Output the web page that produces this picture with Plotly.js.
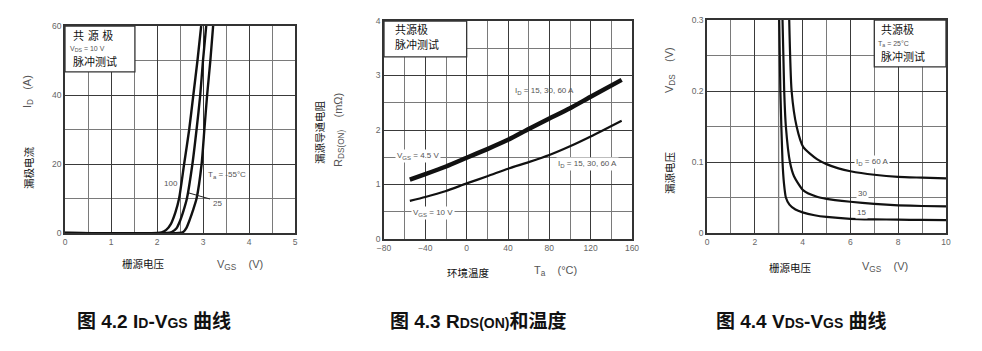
<!DOCTYPE html>
<html>
<head>
<meta charset="utf-8">
<script src="https://cdn.plot.ly/plotly-3.0.1.min.js"></script>
<style>html,body{margin:0;padding:0;background:#fff;}#chart{width:982px;height:351px;}</style>
</head>
<body>
<div id="chart"></div>
<script>
// ---- Figure 4.2: ID vs VGS ----
const vgs100 = [0, 2.0, 2.1, 2.2, 2.3, 2.4, 2.48, 2.59, 2.7, 2.79, 2.88, 2.96];
const id100  = [0, 0, 0.2, 0.9, 2.6, 6, 10, 20, 30, 40, 50, 60];
const vgs25  = [0, 2.22, 2.32, 2.42, 2.5, 2.57, 2.65, 2.77, 2.86, 2.94, 3.0, 3.07];
const id25   = [0, 0, 0.3, 1.3, 3.5, 6.2, 10, 20, 30, 40, 50, 60];
const vgsM55 = [0, 2.48, 2.57, 2.64, 2.71, 2.78, 2.86, 2.97, 3.03, 3.09, 3.16, 3.22];
const idM55  = [0, 0, 0.3, 1.5, 3.8, 6.5, 10, 20, 30, 40, 50, 60];

// ---- Figure 4.3: RDS(ON) vs temperature ----
const temps  = [-55, -40, -20, 0, 20, 40, 60, 80, 100, 120, 150];
const rVgs45 = [1.09, 1.19, 1.33, 1.49, 1.65, 1.82, 2.02, 2.21, 2.40, 2.61, 2.92];
const rVgs10 = [0.70, 0.77, 0.88, 1.02, 1.15, 1.29, 1.41, 1.54, 1.70, 1.88, 2.17];

// ---- Figure 4.4: VDS vs VGS ----
const vgs15 = [3.02, 3.07, 3.16, 3.22, 3.3, 3.45, 3.7, 4.0, 4.5, 5, 6, 7, 8, 9, 10];
const vds15 = [0.3, 0.2, 0.1, 0.07, 0.05, 0.04, 0.033, 0.029, 0.025, 0.0226, 0.020, 0.0192, 0.0188, 0.0184, 0.018];
const vgs30 = [3.16, 3.23, 3.3, 3.47, 3.64, 4.03, 4.6, 5, 6, 7, 8, 9, 10];
const vds30 = [0.3, 0.2, 0.15, 0.1, 0.08, 0.06, 0.051, 0.048, 0.044, 0.041, 0.039, 0.038, 0.0376];
const vgs60 = [3.44, 3.54, 3.75, 4.03, 4.6, 5, 5.5, 6, 7, 8, 9, 10];
const vds60 = [0.3, 0.2, 0.15, 0.121, 0.104, 0.097, 0.091, 0.087, 0.082, 0.079, 0.078, 0.077];

// tick labels
const x1Ticks = [0, 1, 2, 3, 4, 5];
const y1Ticks = [0, 20, 40, 60];
const x2Ticks = [-80, -40, 0, 40, 80, 120, 160];
const y2Ticks = [0, 1, 2, 3, 4];
const x3Ticks = [0, 2, 4, 6, 8, 10];
const y3Ticks = [0, 0.1, 0.2, 0.3];
const y3Text  = ['0', '0.1', '0.2', '0.3'];

const W = 982, H = 351;
const px = x => x / W;
const py = y => 1 - y / H;

const CJK = '"Noto Sans CJK SC", "Liberation Sans", sans-serif';
const ARIAL = '"Liberation Sans", Arial, sans-serif';
const lineCol = '#111';

function line(x, y, xa, ya, w) {
  return {x: x, y: y, xaxis: xa, yaxis: ya, type: 'scatter', mode: 'lines',
    line: {color: lineCol, width: w, shape: 'spline', smoothing: 0.6},
    hoverinfo: 'skip', showlegend: false};
}

const data = [
  line(vgs100, id100, 'x', 'y', 2.4),
  line(vgs25, id25, 'x', 'y', 2.4),
  line(vgsM55, idM55, 'x', 'y', 2.4),
  line(temps, rVgs45, 'x2', 'y2', 4.5),
  line(temps, rVgs10, 'x2', 'y2', 2.2),
  line(vgs15, vds15, 'x3', 'y3', 2.2),
  line(vgs30, vds30, 'x3', 'y3', 2.2),
  line(vgs60, vds60, 'x3', 'y3', 2.2)
];

function axis(dom, range, ticks, minor, anchor, text) {
  const a = {
    domain: dom, range: range, anchor: anchor,
    tickmode: 'array', tickvals: ticks,
    showgrid: true, gridcolor: '#3a3a3a', gridwidth: 1.3,
    minor: {tickmode: 'linear', dtick: minor, tick0: range[0], showgrid: true, gridcolor: '#7a7a7a', gridwidth: 1.1, ticks: ''},
    showline: true, mirror: true, linecolor: '#333', linewidth: 1.6,
    zeroline: false, ticks: '', fixedrange: true,
    tickfont: {family: ARIAL, size: 8.5, color: '#666'}
  };
  if (text) a.ticktext = text;
  return a;
}

const layout = {
  width: W, height: H,
  margin: {l: 0, r: 0, t: 0, b: 0},
  paper_bgcolor: '#fff', plot_bgcolor: '#fff',
  showlegend: false,
  xaxis:  axis([65/W, 295/W], [0, 5], x1Ticks, 0.5, 'y'),
  yaxis:  axis([1-233/H, 1-26/H], [0, 60], y1Ticks, 10, 'x'),
  xaxis2: axis([384/W, 632/W], [-80, 160], x2Ticks, 20, 'y2'),
  yaxis2: axis([1-239/H, 1-21/H], [0, 4], y2Ticks, 0.5, 'x2'),
  xaxis3: axis([707/W, 946/W], [0, 10], x3Ticks, 1, 'y3'),
  yaxis3: axis([1-233/H, 1-20/H], [0, 0.3], y3Ticks, 0.05, 'x3', y3Text),
  shapes: [
    // info boxes
    {type: 'rect', xref: 'x', yref: 'y', x0: 0, x1: 1.52, y0: 46.7, y1: 60, fillcolor: '#fff', line: {color: '#333', width: 1.3}, layer: 'above'},
    {type: 'rect', xref: 'x2', yref: 'y2', x0: -80, x1: 0, y0: 3.34, y1: 4, fillcolor: '#fff', line: {color: '#333', width: 1.3}, layer: 'above'},
    {type: 'rect', xref: 'x3', yref: 'y3', x0: 7, x1: 10, y0: 0.234, y1: 0.3, fillcolor: '#fff', line: {color: '#333', width: 1.3}, layer: 'above'},
    // light grid line in fig 4.4
    {type: 'line', xref: 'x3', yref: 'y3', x0: 3, x1: 3, y0: 0, y1: 0.3, line: {color: '#aaa', width: 1.5}, layer: 'below'},
    // leader in fig 4.2
    {type: 'line', xref: 'paper', yref: 'paper', x0: px(189), y0: py(193), x1: px(210), y1: py(199), line: {color: '#222', width: 1}}
  ],
  annotations: []
};

function ann(text, x, y, opts) {
  const a = Object.assign({
    text: text, xref: 'paper', yref: 'paper', x: px(x), y: py(y),
    xanchor: 'center', yanchor: 'middle', showarrow: false,
    font: {family: ARIAL, size: 8.5, color: '#333'}
  }, opts || {});
  layout.annotations.push(a);
}
const cjk = (s) => ({family: CJK, size: s, color: '#111'});
const grayT = (s) => ({family: ARIAL, size: s, color: '#555'});
// lowered, smaller subscript text
const sb = s => '<span style="font-size:75%;baseline-shift:-0.25em">' + s + '</span>';

// Fig 4.2 texts
ann('I' + sb('D') + '   (A)', 28, 92, {textangle: -90, font: grayT(11)});
ann('漏极电流', 28, 168, {textangle: -90, font: cjk(10.5)});
ann('栅源电压', 143, 263, {font: cjk(10.5)});
ann('V' + sb('GS') + '    (V)', 240, 265, {font: grayT(11)});
ann('共\u2004源\u2004极', 71, 35, {xanchor: 'left', font: cjk(11)});
ann('V' + sb('DS') + ' = 10 V', 68, 49, {xanchor: 'left', font: grayT(7)});
ann('脉冲测试', 71, 61, {xanchor: 'left', font: cjk(11)});
ann('100', 171, 183, {font: grayT(8)});
ann('T' + sb('a') + ' = -55°C', 206, 175, {xanchor: 'left', font: grayT(8)});
ann('25', 217, 203, {font: grayT(8)});

// Fig 4.3 texts
ann('R' + sb('DS(ON)') + '    (mΩ)', 339, 130, {textangle: -90, font: grayT(11)});
ann('漏源导通电阻', 319, 132, {textangle: -90, font: cjk(10.5)});
ann('环境温度', 468, 272, {font: cjk(10.5)});
ann('T' + sb('a') + '    (°C)', 555, 271, {font: grayT(11)});
ann('共源极', 393, 29, {xanchor: 'left', font: cjk(11)});
ann('脉冲测试', 393, 44, {xanchor: 'left', font: cjk(11)});
ann('I' + sb('D') + ' = 15, 30, 60 A', 544, 91, {font: grayT(8)});
ann('I' + sb('D') + ' = 15, 30, 60 A', 587, 164, {font: grayT(8), bgcolor: '#fff'});
ann('V' + sb('GS') + ' = 4.5 V', 418, 156, {font: grayT(8), bgcolor: '#fff'});
ann('V' + sb('GS') + ' = 10 V', 433, 213, {font: grayT(8), bgcolor: '#fff'});

// Fig 4.4 texts
ann('V' + sb('DS') + '    (V)', 670, 70, {textangle: -90, font: grayT(11)});
ann('漏源电压', 670, 173, {textangle: -90, font: cjk(10.5)});
ann('栅源电压', 790, 267, {font: cjk(10.5)});
ann('V' + sb('GS') + '    (V)', 885, 267, {font: grayT(11)});
ann('共源极', 879, 29, {xanchor: 'left', font: cjk(11)});
ann('T' + sb('a') + ' = 25°C', 876, 44, {xanchor: 'left', font: grayT(7)});
ann('脉冲测试', 879, 56, {xanchor: 'left', font: cjk(11)});
ann('I' + sb('D') + ' = 60 A', 872, 162, {font: grayT(8), bgcolor: '#fff'});
ann('30', 862, 193, {font: grayT(8), bgcolor: '#fff'});
ann('15', 861, 212, {font: grayT(8), bgcolor: '#fff'});

// Captions
const capFont = {family: '"Liberation Sans", "Noto Sans CJK SC", sans-serif', size: 19, color: '#111', weight: 'bold'};
const sm = s => '<span style="font-size:14px">' + s + '</span>';
ann('<b>图 4.2 I' + sm('D') + '-V' + sm('GS') + ' 曲线</b>', 154, 321, {font: capFont});
ann('<b>图 4.3 R' + sm('DS(ON)') + '和温度</b>', 478, 321, {font: capFont});
ann('<b>图 4.4 V' + sm('DS') + '-V' + sm('GS') + ' 曲线</b>', 801, 321, {font: capFont});

Plotly.newPlot('chart', data, layout, {displayModeBar: false});
</script>
</body>
</html>
